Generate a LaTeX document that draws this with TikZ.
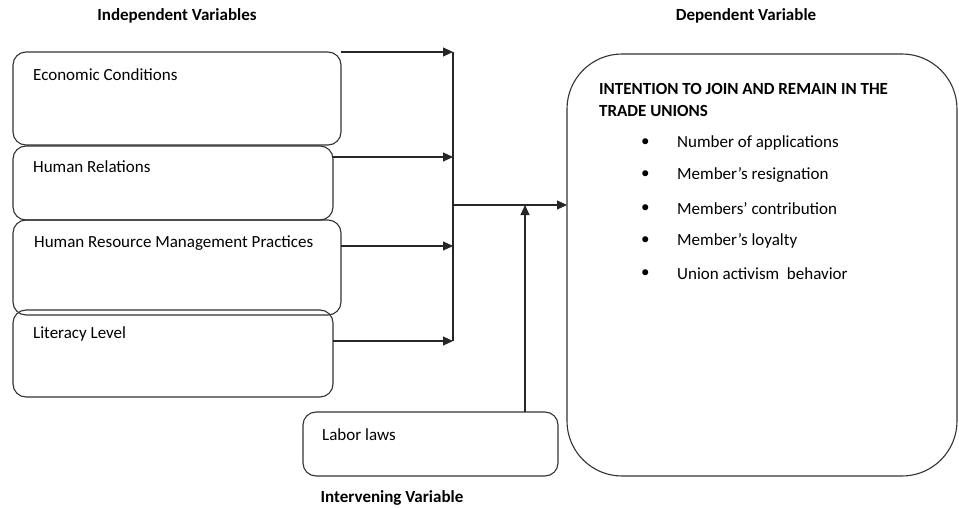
\documentclass[tikz,border=0pt]{standalone}
\usepackage{fontspec}
\setmainfont{Carlito}
\usetikzlibrary{arrows.meta}
\begin{document}
\begin{tikzpicture}[x=1pt,y=-1pt,
  box/.style={draw=black!80, line width=1.1pt, rounded corners=13pt},
  bigbox/.style={draw=black!80, line width=1.1pt, rounded corners=55pt},
  lbl/.style={anchor=west, inner sep=0pt, font=\fontsize{17}{20}\selectfont},
  head/.style={anchor=center, inner sep=0pt, font=\bfseries\fontsize{17}{20}\selectfont},
  conn/.style={draw=black!85, line width=1.1pt},
  arr/.style={conn, -{Triangle[length=10pt,width=9pt]}}
]
\useasboundingbox (0,0) rectangle (959,508);
% headings
\node[head] (hind) at (177,16) {Independent Variables};
\node[head] (hdep) at (746,16) {Dependent Variable};
\node[head] (hint) at (392,498) {Intervening Variable};
% independent boxes
\draw[box] (13,52) rectangle (341,145);
\coordinate (b1) at (341,52);
\node[lbl] (t1) at (33,75) {Economic Conditions};
\draw[box] (13,146) rectangle (333,220);
\coordinate (b2) at (333,157);
\node[lbl] (t2) at (33,167) {Human Relations};
\draw[box] (13,220) rectangle (341,315);
\coordinate (b3) at (341,246);
\node[lbl] (t3) at (34,243) {Human Resource Management Practices};
\draw[box] (13,310) rectangle (333,397);
\coordinate (b4) at (333,341);
\node[lbl] (t4) at (33,334) {Literacy Level};
% intervening box
\draw[box] (303,412) rectangle (558,476);
\coordinate (lab) at (525,412);
\node[lbl] (t5) at (322,435) {Labor laws};
% dependent box
\draw[bigbox] (567,54) rectangle (957,476);
\coordinate (dep) at (567,205);
\node[anchor=north west, inner sep=0pt, align=left, font=\bfseries\fontsize{17}{22}\selectfont] (dt) at (599,83) {INTENTION TO JOIN AND REMAIN IN THE\\TRADE UNIONS};
\foreach \y/\t [count=\i] in {143/Number of applications,175/Member’s resignation,209/Members’ contribution,241/Member’s loyalty,274/Union activism~ behavior}{
  \node[lbl] (bul\i) at (641,\y) {\textbullet};
  \node[lbl] (it\i) at (677,\y) {\t};
}
% connectors
\coordinate (j1) at (453,52);
\coordinate (j2) at (453,157);
\coordinate (j3) at (453,246);
\coordinate (j4) at (453,341);
\coordinate (jm) at (453,205);
\coordinate (jl) at (525,205);
\draw[arr] (b1) -- (j1);
\draw[arr] (b2) -- (j2);
\draw[arr] (b3) -- (j3);
\draw[arr] (b4) -- (j4);
\draw[conn] (j1) -- (j4);
\draw[arr] (jm) -- (dep);
\draw[arr] (lab) -- (jl);
\end{tikzpicture}
\end{document}
